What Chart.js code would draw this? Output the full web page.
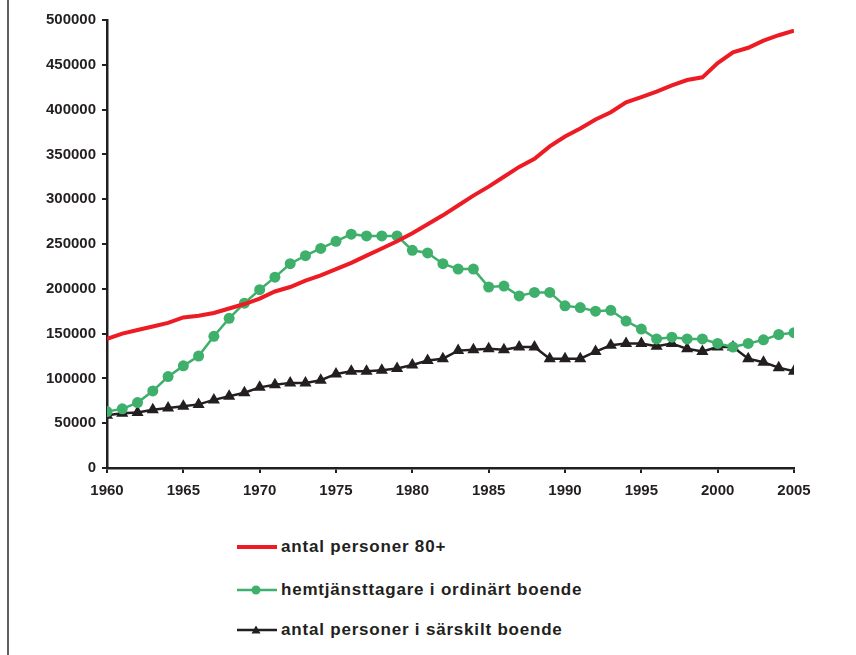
<!DOCTYPE html>
<html>
<head>
<meta charset="utf-8">
<script src="https://cdn.jsdelivr.net/npm/chart.js@4/dist/chart.umd.min.js"></script>
<style>
  html, body { margin: 0; padding: 0; background: #fff; }
  #wrap { position: relative; width: 856px; height: 655px; overflow: hidden; }
  #kant { position: absolute; left: 7px; top: 0; width: 2px; height: 655px; background: #5f5f5f; }
  #box { position: absolute; left: 0; top: 0; width: 856px; height: 520px; }
  #legend { position: absolute; left: 0; top: 0; }
  .item { position: absolute; left: 236px; height: 24px; display: flex; align-items: center;
          font: bold 17px "Liberation Sans", Arial, sans-serif; color: #231f20; letter-spacing: 0.8px; white-space: nowrap; }
  .item svg { margin-right: 3px; }
</style>
</head>
<body>
<div id="wrap">
  <div id="kant"></div>
  <div id="box"><canvas id="myChart"></canvas></div>
  <div id="legend"></div>
</div>
<script>
// år 1960-2005
const ar = [];
for (let a = 1960; a <= 2005; a++) ar.push(a);

const personer80 = [144000,150000,154000,158000,162000,168000,170000,173000,178000,183000,
                    189000,197000,202000,209000,215000,222000,229000,237000,245000,253000,
                    262000,272000,282000,293000,304000,314000,325000,336000,345000,359000,
                    370000,379000,389000,397000,408000,414000,420000,427000,433000,436000,
                    452000,464000,469000,477000,483000,488000];
const hemtjanst = [63000,66000,73000,86000,102000,114000,125000,147000,167000,184000,
                   199000,213000,228000,237000,245000,253000,261000,259000,259000,259000,
                   243000,240000,228000,222000,222000,202000,203000,192000,196000,196000,
                   181000,179000,175000,176000,164000,155000,144000,146000,144000,144000,
                   139000,135000,139000,143000,149000,151000];
const sarskilt = [59000,61000,62000,65000,67000,69000,71000,76000,80000,84000,
                  90000,93000,95000,95000,98000,105000,108000,108000,109000,111000,
                  115000,120000,122000,131000,132000,133000,132000,135000,135000,122000,
                  122000,122000,130000,137000,139000,139000,136000,139000,133000,130000,
                  135000,135000,122000,118000,112000,108000];
const yTicks = [0,50000,100000,150000,200000,250000,300000,350000,400000,450000,500000];
const namn = ['antal personer 80+','hemtjänsttagare i ordinärt boende','antal personer i särskilt boende'];

const text = '#231f20';
const fnt = {family: '"Liberation Sans", Arial, sans-serif', size: 15, weight: 'bold'};

const punkter = (v) => ar.map((a, i) => ({x: a, y: v[i]}));

const ctx = document.getElementById('myChart');
const myChart = new Chart(ctx, {
    type: 'line',
    data: {
        datasets: [{
            label: namn[0],
            data: punkter(personer80),
            borderColor: '#ed1c24',
            borderWidth: 4,
            pointRadius: 0,
            tension: 0,
            fill: false
        }, {
            label: namn[1],
            data: punkter(hemtjanst),
            borderColor: '#3fb06b',
            backgroundColor: '#3fb06b',
            borderWidth: 2.5,
            pointRadius: 5.5,
            pointStyle: 'circle',
            pointBorderWidth: 0,
            tension: 0,
            fill: false
        }, {
            label: namn[2],
            data: punkter(sarskilt),
            borderColor: text,
            backgroundColor: text,
            borderWidth: 2.5,
            pointRadius: 7,
            pointStyle: 'triangle',
            pointBorderWidth: 0,
            tension: 0,
            fill: false
        }]
    },
    options: {
        responsive: true,
        maintainAspectRatio: false,
        animation: false,
        layout: {padding: {left: 0, right: 62, top: 20, bottom: 0}},
        plugins: {legend: {display: false}, tooltip: {enabled: false}},
        scales: {
            x: {
                type: 'linear',
                min: 1960,
                max: 2005,
                afterFit: (s) => { s.height = 52; },
                border: {display: true, color: text, width: 2.5},
                grid: {drawOnChartArea: false, drawTicks: true, tickLength: 5, color: text, lineWidth: 2},
                ticks: {stepSize: 5, color: text, font: fnt, padding: 9, maxRotation: 0,
                        callback: (v) => String(v)}
            },
            y: {
                min: 0,
                max: 500000,
                afterFit: (s) => { s.width = 107; },
                afterBuildTicks: (s) => { s.ticks = yTicks.map(v => ({value: v})); },
                border: {display: true, color: text, width: 2.5},
                grid: {drawOnChartArea: false, drawTicks: true, tickLength: 5, color: text, lineWidth: 2},
                ticks: {color: text, font: fnt, padding: 6, callback: (v) => String(v)}
            }
        }
    }
});

// legend under diagrammet
const legY = [547, 590, 630];
let html = '';
myChart.data.datasets.forEach((ds, i) => {
    let mark = '';
    if (ds.pointStyle === 'circle') mark = `<circle cx="20" cy="6" r="4.5" fill="${ds.borderColor}"/>`;
    if (ds.pointStyle === 'triangle') mark = `<polygon points="20,1.5 24.5,9.5 15.5,9.5" fill="${ds.borderColor}"/>`;
    html += `<div class="item" style="top:${legY[i] - 12}px">
        <svg width="42" height="12"><line x1="1" y1="6" x2="41" y2="6" stroke="${ds.borderColor}" stroke-width="${i === 0 ? 4 : 2.5}"/>${mark}</svg>
        <span>${ds.label}</span></div>`;
});
document.getElementById('legend').innerHTML = html;
</script>
</body>
</html>
